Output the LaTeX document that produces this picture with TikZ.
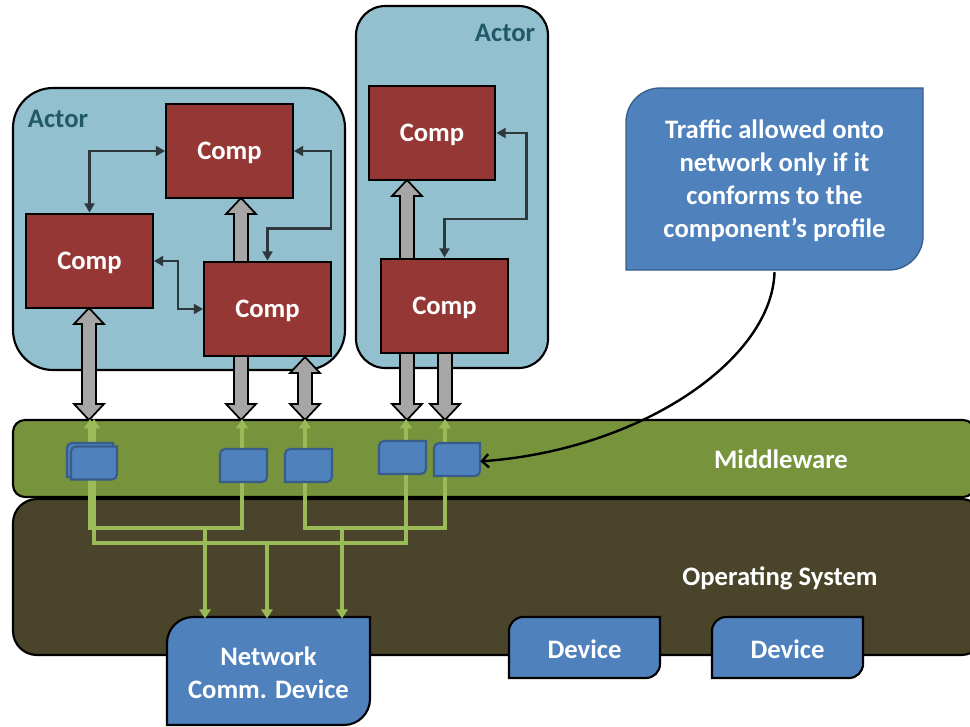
\documentclass[tikz,border=0pt]{standalone}
\usepackage{fontspec}
\setmainfont{Carlito}
\usetikzlibrary{arrows.meta,calc}
\definecolor{actorfill}{RGB}{147,192,206}
\definecolor{actortext}{RGB}{33,89,104}
\definecolor{compred}{RGB}{149,55,53}
\definecolor{fatgray}{RGB}{166,166,166}
\definecolor{thingray}{RGB}{45,55,60}
\definecolor{mwgreen}{RGB}{119,147,60}
\definecolor{osolive}{RGB}{74,69,42}
\definecolor{greenline}{RGB}{155,187,89}
\definecolor{boxblue}{RGB}{79,129,189}
\definecolor{boxborder}{RGB}{56,93,138}
\tikzset{
  txt/.style={font=\bfseries\fontsize{20}{24.75}\selectfont, text=white, align=center, inner sep=0pt},
  actorbox/.style={draw=black, line width=1.6pt, fill=actorfill},
  actorlbl/.style={font=\bfseries\fontsize{20}{24}\selectfont, text=actortext, inner sep=0pt},
  comp/.style={txt, text depth=0pt, draw=black, line width=1.6pt, fill=compred, minimum width=95pt, minimum height=71pt},
  thinarr/.style={draw=thingray, line width=1.9pt, {Triangle[length=7pt,width=7.5pt]}-{Triangle[length=7pt,width=7.5pt]}},
  fat/.style={draw=black, line width=1.3pt, fill=fatgray, line join=miter},
  gl/.style={draw=greenline, line width=2.8pt},
  gtip/.style={gl, -{Triangle[length=7pt,width=8.5pt]}},
  gtips/.style={gl, {Triangle[length=7pt,width=8.5pt]}-{Triangle[length=7pt,width=8.5pt]}},
  smallbox/.style={fill=boxblue, draw=boxborder, line width=1.6pt},
  devbox/.style={fill=boxblue, draw=black, line width=1.6pt},
  calloutbox/.style={fill=boxblue, draw=boxborder, line width=1pt},
}
% rectangle with rounded top-left and bottom-right corners
\newcommand\dbox[8]{%
  \path[#7] ({#2-#4/2+#6},{#3-#5/2}) -- ({#2+#4/2},{#3-#5/2}) -- ({#2+#4/2},{#3+#5/2-#6})
    .. controls ({#2+#4/2},{#3+#5/2-0.45*#6}) and ({#2+#4/2-0.45*#6},{#3+#5/2}) .. ({#2+#4/2-#6},{#3+#5/2}) -- ({#2-#4/2},{#3+#5/2})
    -- ({#2-#4/2},{#3-#5/2+#6}) .. controls ({#2-#4/2},{#3-#5/2+0.45*#6}) and ({#2-#4/2+0.45*#6},{#3-#5/2}) .. ({#2-#4/2+#6},{#3-#5/2}) -- cycle;
  \node[txt, minimum width=#4*0.75pt, minimum height=#5*0.75pt, yshift=-1.4pt] (#1) at (#2,#3) {#8};
}
\newcommand\fatup[3]{\draw[fat] (#1-7,#3) -- (#1-7,#2+16) -- (#1-15,#2+16) -- (#1,#2) -- (#1+15,#2+16) -- (#1+7,#2+16) -- (#1+7,#3) -- cycle;}
\newcommand\fatdown[3]{\draw[fat] (#1-7,#2) -- (#1+7,#2) -- (#1+7,#3-16) -- (#1+15,#3-16) -- (#1,#3) -- (#1-15,#3-16) -- (#1-7,#3-16) -- cycle;}
\newcommand\fatboth[3]{\draw[fat] (#1,#2) -- (#1+15,#2+16) -- (#1+7,#2+16) -- (#1+7,#3-16) -- (#1+15,#3-16) -- (#1,#3) -- (#1-15,#3-16) -- (#1-7,#3-16) -- (#1-7,#2+16) -- (#1-15,#2+16) -- cycle;}
\begin{document}
\begin{tikzpicture}[x=0.75pt,y=-0.75pt]
\useasboundingbox (0,0) rectangle (970,727);
\clip (0,0) rectangle (970,727);
% actors
\draw[actorbox, rounded corners=30pt] (13,88) rectangle (345,370);
\draw[actorbox, rounded corners=22pt] (356,6) rectangle (548,368);
\node[actorlbl] (act1) at (58,119) {Actor};
\node[actorlbl] (act2) at (505,33) {Actor};
% components
\node[comp] (c1) at (229.5,151) {Comp};
\node[comp] (c2) at (89.5,261) {Comp};
\node[comp] (c3) at (267.5,309) {Comp};
\node[comp] (c4) at (432,133) {Comp};
\node[comp] (c5) at (444.5,306) {Comp};
% thin connectors
\draw[thinarr] (c1.west) -| (c2.north);
\draw[thinarr] (c2.east) -- ++(24,0) |- (c3.west);
\draw[thinarr] (c1.east) -- ++(37,0) |- ([yshift=24pt]c3.north) -- (c3.north);
\draw[thinarr] (c4.east) -- ++(30,0) |- ([yshift=29pt]c5.north) -- (c5.north);
% fat arrows
\fatup{241}{198}{262}
\fatboth{89}{308}{420}
\fatdown{241}{356}{420}
\fatboth{305}{357}{420}
\fatup{407}{180}{259}
\fatdown{407}{353}{420}
\fatdown{445}{353}{420}
% middleware and OS
\node[draw=black, line width=1.6pt, fill=mwgreen, rounded corners=9pt, minimum width=721.5pt, minimum height=57.75pt, inner sep=0pt] (mw) at (494,458.5) {};
\draw[draw=black, line width=1.6pt, fill=osolive, rounded corners=18pt] (13,499) rectangle (985,655);
\node[txt] (mwl) at (781,459) {Middleware};
\node[txt] (osl) at (780,578) {Operating System};
% green connections
\coordinate (ga1) at (90,528);  \coordinate (ga2) at (242,528);
\coordinate (gb1) at (94,543);  \coordinate (gb2) at (406,543);
\coordinate (gc1) at (305,528); \coordinate (gc2) at (445,528);
\coordinate (gd1) at (205,528); \coordinate (gd2) at (267,543); \coordinate (gd3) at (342,528);
\draw[gtips] (ga1 |- mw.north) -- (ga1) -- (ga2) -- (ga2 |- mw.north);
\draw[gtips] (gb1 |- mw.north) -- (gb1) -- (gb2) -- (gb2 |- mw.north);
\draw[gtips] (gc1 |- mw.north) -- (gc1) -- (gc2) -- (gc2 |- mw.north);
% small middleware boxes
\dbox{b0}{90}{460}{46}{34}{5}{smallbox}{}
\dbox{b1}{94}{463}{46}{33}{5}{smallbox}{}
\dbox{b2}{243.5}{465.5}{47}{33}{5}{smallbox}{}
\dbox{b3}{308.5}{465.5}{47}{33}{5}{smallbox}{}
\dbox{b4}{402.5}{457.5}{47}{33}{5}{smallbox}{}
\dbox{b5}{457}{459.5}{46}{33}{5}{smallbox}{}
% devices
\dbox{net}{268.5}{671}{203}{108}{26}{devbox}{Network\\Comm. Device}
\dbox{dev1}{584.5}{647.5}{151}{61}{14}{devbox}{Device}
\dbox{dev2}{787.5}{647.5}{151}{61}{14}{devbox}{Device}
\draw[gtip] (gd1) -- (gd1 |- net.north);
\draw[gtip] (gd2) -- (gd2 |- net.north);
\draw[gtip] (gd3) -- (gd3 |- net.north);
% callout
\dbox{callout}{774.5}{179}{297}{182}{34}{calloutbox}{Traffic allowed onto\\network only if it\\conforms to the\\component’s profile}
\draw[line width=1.8pt, -{Straight Barb[length=5pt,width=10pt]}] (callout.south) .. controls (772,360) and (640,450) .. (b5.east);
\end{tikzpicture}
\end{document}
